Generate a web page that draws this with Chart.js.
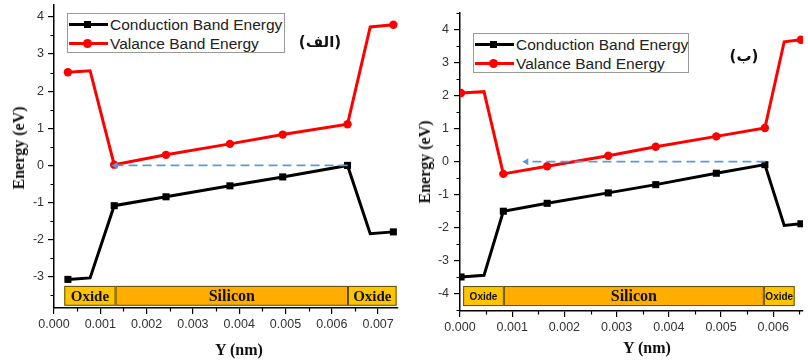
<!DOCTYPE html>
<html><head><meta charset="utf-8">
<script src="https://cdn.jsdelivr.net/npm/chart.js@4.4.1/dist/chart.umd.min.js"></script>
<style>
html,body{margin:0;padding:0;background:#fff;width:808px;height:360px;overflow:hidden;position:relative;}
canvas{position:absolute;top:0;}
.t{position:absolute;font-family:"Liberation Serif","Times New Roman",serif;font-weight:bold;font-size:16px;color:#111;white-space:nowrap;line-height:1;}
.rot{transform:translate(-50%,-50%) rotate(-90deg);}
.ctr{transform:translate(-50%,-50%);}
.lg{position:absolute;border:1px solid #9a9a9a;background:#fff;box-sizing:border-box;}
.row{position:absolute;left:0;height:20px;width:100%;}
.ln{position:absolute;left:1px;width:39px;height:3px;top:8px;}
.mk{position:absolute;}
.lt{position:absolute;left:42px;top:1px;font-family:"Liberation Sans",Arial,sans-serif;font-size:15.5px;color:#222;white-space:nowrap;line-height:18px;}
.pl{position:absolute;font-family:"DejaVu Sans",sans-serif;font-weight:bold;font-size:15px;color:#111;white-space:nowrap;transform:translate(-50%,-50%);line-height:1;}
</style></head>
<body>
<canvas id="c1" width="405" height="360" style="left:0"></canvas>
<canvas id="c2" width="403" height="360" style="left:405px"></canvas>

<div class="t rot" style="left:19px;top:148px;">Energy (eV)</div>
<div class="t rot" style="left:425px;top:162px;">Energy (eV)</div>
<div class="t ctr" style="left:239px;top:350px;">Y (nm)</div>
<div class="t ctr" style="left:647px;top:348px;">Y (nm)</div>

<div class="lg" style="left:67px;top:13px;width:218px;height:40px;">
  <div class="row" style="top:1px;"><div class="ln" style="background:#000"></div><div class="mk" style="left:16px;top:6px;width:7px;height:7px;background:#000"></div><div class="lt">Conduction Band Energy</div></div>
  <div class="row" style="top:20px;"><div class="ln" style="background:#f00"></div><div class="mk" style="left:15px;top:5px;width:9px;height:9px;border-radius:50%;background:#f00"></div><div class="lt">Valance Band Energy</div></div>
</div>
<div class="lg" style="left:473px;top:33px;width:216px;height:40px;">
  <div class="row" style="top:1px;"><div class="ln" style="background:#000"></div><div class="mk" style="left:16px;top:6px;width:7px;height:7px;background:#000"></div><div class="lt">Conduction Band Energy</div></div>
  <div class="row" style="top:20px;"><div class="ln" style="background:#f00"></div><div class="mk" style="left:15px;top:5px;width:9px;height:9px;border-radius:50%;background:#f00"></div><div class="lt">Valance Band Energy</div></div>
</div>
<div class="pl" style="left:320px;top:42px;">(الف)</div>
<div class="pl" style="left:744px;top:56px;">(ب)</div>

<script>
// ---- Panel (الف) ----
const posA = [0.0003, 0.00078, 0.0013, 0.00242, 0.0038, 0.00494, 0.00634, 0.00683, 0.00733];
const cbA  = [-3.07, -3.03, -1.085, -0.845, -0.55, -0.31, 0.0, -1.84, -1.79];
const vbA  = [2.51, 2.55, 0.02, 0.285, 0.58, 0.83, 1.11, 3.73, 3.79];
const arrowA = [0.00634, 0.00133];
const layerEdgesA = [0.000222, 0.00133, 0.00635, 0.0074];
const layerA = [-3.245, -3.78];
// ---- Panel (ب) ----
const posB = [0.00002, 0.00046, 0.00083, 0.00167, 0.00284, 0.00375, 0.00491, 0.00584, 0.00621, 0.00653];
const cbB  = [-3.49, -3.44, -1.50, -1.26, -0.945, -0.695, -0.35, -0.09, -1.93, -1.88];
const vbB  = [2.08, 2.12, -0.37, -0.14, 0.18, 0.45, 0.765, 1.02, 3.63, 3.69];
const arrowB = [0.00585, 0.00127];
const layerEdgesB = [0.00006, 0.00084, 0.00582, 0.00641];
const layerB = [-3.765, -4.37];
const layerNames = ['Oxide', 'Silicon', 'Oxide'];

const deco = {
  id: 'deco',
  afterDatasetsDraw(chart, args, o) {
    const {ctx, chartArea: a} = chart;
    const x = chart.scales.x, y = chart.scales.y;
    ctx.save();
    const yt = y.getPixelForValue(o.top), yb = y.getPixelForValue(o.bottom);
    for (let i = 0; i < o.edges.length - 1; i++) {
      const x0 = x.getPixelForValue(o.edges[i]), x1 = x.getPixelForValue(o.edges[i + 1]);
      ctx.fillStyle = i === 1 ? '#FFAE00' : '#FFC400';
      ctx.fillRect(x0, yt, x1 - x0, yb - yt);
      ctx.strokeStyle = '#5e4c12'; ctx.lineWidth = 1;
      ctx.strokeRect(x0 + 0.5, yt + 0.5, x1 - x0 - 1, yb - yt - 1);
      ctx.fillStyle = '#111';
      ctx.textAlign = 'center'; ctx.textBaseline = 'middle';
      ctx.font = (i === 1 ? o.siFont : o.oxFont);
      ctx.fillText(o.names[i], (x0 + x1) / 2, (yt + yb) / 2 + 1);
    }
    // minor ticks
    ctx.strokeStyle = '#000'; ctx.lineWidth = 1.2;
    ctx.beginPath();
    for (let v = 0.0005; v < x.max; v += 0.001) {
      const px = Math.round(x.getPixelForValue(v)) + 0.5;
      ctx.moveTo(px, a.bottom); ctx.lineTo(px, a.bottom + 3.5);
    }
    for (let v = -4.5; v <= y.max; v += 1) {
      if (v < y.min) continue;
      const py = Math.round(y.getPixelForValue(v)) + 0.5;
      ctx.moveTo(a.left, py); ctx.lineTo(a.left - 3.5, py);
    }
    ctx.stroke();
    ctx.restore();
  }
};

function zeroPad(s) { s.paddingTop = 0; s.paddingBottom = 0; s.paddingLeft = 0; s.paddingRight = 0; }

function makeChart(id, c) {
  const corner = (ctx, n) => (ctx.dataIndex === 1 || ctx.dataIndex === n - 2);
  const n = c.pos.length;
  return new Chart(document.getElementById(id), {
    type: 'line',
    data: {
      datasets: [
        { label: 'arrow', data: c.arrow.map(v => ({x: v, y: 0})),
          borderColor: '#5B9BD5', backgroundColor: '#5B9BD5', borderWidth: 1.8, borderDash: [9, 5],
          pointStyle: 'triangle', pointRotation: -90, pointRadius: [0, 4], pointBorderWidth: 0 },
        { label: 'Conduction Band Energy', data: c.pos.map((v, i) => ({x: v, y: c.cb[i]})),
          borderColor: '#000', backgroundColor: '#000', borderWidth: 3, pointStyle: 'rect',
          pointRadius: ctx => corner(ctx, n) ? 0 : 5, pointBorderWidth: 0, tension: 0 },
        { label: 'Valance Band Energy', data: c.pos.map((v, i) => ({x: v, y: c.vb[i]})),
          borderColor: '#FF0000', backgroundColor: '#FF0000', borderWidth: 3, pointStyle: 'circle',
          pointRadius: ctx => corner(ctx, n) ? 0 : 4.2, pointBorderWidth: 0, tension: 0 }
      ]
    },
    options: {
      responsive: false, animation: false, devicePixelRatio: 1,
      layout: {padding: {top: c.padTop, right: c.padRight, left: 0, bottom: 0}},
      plugins: {
        legend: {display: false}, tooltip: {enabled: false},
        deco: {edges: c.edges, top: c.layer[0], bottom: c.layer[1], names: layerNames, oxFont: c.oxFont, siFont: 'bold 16px "Liberation Serif", serif'}
      },
      scales: {
        x: {
          type: 'linear', min: 0, max: c.xmax,
          afterFit: s => { s.height = c.xh; zeroPad(s); },
          ticks: {stepSize: 0.001, includeBounds: false, autoSkip: false, maxRotation: 0,
            callback: v => Number(v).toFixed(3), color: '#333', padding: 3,
            font: {family: '"Liberation Sans", Arial, sans-serif', size: 12.5}},
          grid: {drawOnChartArea: false, tickLength: 6, color: '#000', lineWidth: 1.2},
          border: {color: '#000', width: 1.5}
        },
        y: {
          type: 'linear', min: c.ymin, max: c.ymax,
          afterFit: s => { s.width = c.yw; zeroPad(s); },
          ticks: {stepSize: 1, includeBounds: false, color: '#333', padding: c.ypad,
            font: {family: '"Liberation Sans", Arial, sans-serif', size: 12.5}},
          grid: {drawOnChartArea: false, tickLength: 6, color: '#000', lineWidth: 1.2},
          border: {color: '#000', width: 1.5}
        }
      }
    },
    plugins: [deco]
  });
}

makeChart('c1', {pos: posA, cb: cbA, vb: vbA, arrow: arrowA, edges: layerEdgesA, layer: layerA,
  xmax: 0.00743, ymin: -3.84, ymax: 4.32, padTop: 0, padRight: 7, xh: 52, yw: 54, ypad: 4,
  oxFont: 'bold 15px "Liberation Serif", serif'});
makeChart('c2', {pos: posB, cb: cbB, vb: vbB, arrow: arrowB, edges: layerEdgesB, layer: layerB,
  xmax: 0.00657, ymin: -4.52, ymax: 4.5, padTop: 13, padRight: 0, xh: 49, yw: 55, ypad: 5,
  oxFont: 'bold 10px "Liberation Sans", Arial, sans-serif'});
</script>
</body></html>
